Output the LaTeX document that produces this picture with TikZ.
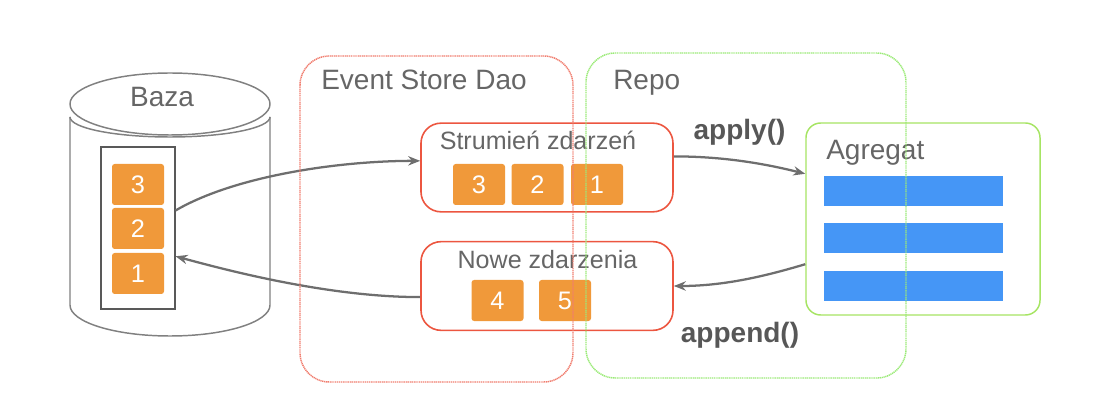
\documentclass[tikz,border=0pt]{standalone}
\usepackage{fontspec}
\setmainfont{Liberation Sans}
\usetikzlibrary{arrows.meta}

\definecolor{evorange}{HTML}{F0993A}
\definecolor{boxred}{HTML}{EC5640}
\definecolor{dotred}{HTML}{F07D6E}
\definecolor{aggreen}{HTML}{A6E463}
\definecolor{dotgreen}{HTML}{9BEA78}
\definecolor{barblue}{HTML}{4596F6}
\definecolor{txtgray}{HTML}{666666}
\definecolor{arrgray}{HTML}{6E6E6E}

\begin{document}
\begin{tikzpicture}[x=0.75pt,y=0.75pt,yscale=-1,xscale=1,
  title/.style={anchor=base,inner sep=0pt,text=txtgray,font=\fontsize{21}{24}\selectfont},
  subtitle/.style={anchor=base,inner sep=0pt,text=txtgray,font=\fontsize{18.8}{22}\selectfont},
  method/.style={anchor=base,inner sep=0pt,text=txtgray!85!black,font=\fontsize{21}{24}\selectfont\bfseries},
  ev/.style={fill=evorange,rounded corners=2pt,minimum width=39pt,minimum height=30.75pt,inner sep=0pt,text=white,font=\fontsize{19}{19}\selectfont},
  evgroup/.style={draw=boxred,line width=1.2pt,rounded corners=15pt,minimum width=189pt,minimum height=66.5pt,inner sep=0pt},
  bar/.style={fill=barblue,minimum width=134.25pt,minimum height=22.5pt,inner sep=0pt},
  dbline/.style={draw=black!50,line width=1.1pt},
  frame/.style={line width=1.1pt,dash pattern=on 0.9pt off 0.5pt,rounded corners=22pt},
  flow/.style={draw=arrgray,line width=1.7pt,-{Stealth[length=9pt,width=7pt]}}]
\useasboundingbox (0,0) rectangle (1098,416);

%Shape: Can [id:baza]
\draw [dbline] (170,104) ellipse [x radius=100,y radius=31];
\draw [dbline] (70,117) -- (70,305) arc [start angle=180,end angle=0,x radius=100,y radius=31] -- (270,117);
\draw [dbline] (70,117) arc [start angle=180,end angle=0,x radius=100,y radius=20];
% Text Node
\node [title] (bazalabel) at (162,107) {Baza};

%Shape: Rectangle [id:dbin]
\node [draw=black!65,line width=0.8pt,minimum width=55.5pt,minimum height=121.5pt,inner sep=0pt] (dbin) at (138,228) {};
\node [ev] (d3) at (138,184.5) {3};
\node [ev] (d2) at (138,228.5) {2};
\node [ev] (d1) at (138,273.5) {1};

%Shape: Rectangle [id:stream]
\node [evgroup] (stream) at (547,167.5) {};
\node [subtitle] (streamlabel) at (538,150) {Strumień zdarzeń};
\node [ev] (s3) at (479,184.5) {3};
\node [ev] (s2) at (537.5,184.5) {2};
\node [ev] (s1) at (597,184.5) {1};

%Shape: Rectangle [id:newev]
\node [evgroup] (newev) at (547,286) {};
\node [subtitle] (newevlabel) at (547.5,269) {Nowe zdarzenia};
\node [ev] (n4) at (497.5,300.5) {4};
\node [ev] (n5) at (565,300.5) {5};

%Shape: Rectangle [id:agg]
\node [draw=aggreen,line width=1.1pt,rounded corners=11pt,minimum width=175.5pt,minimum height=144pt,inner sep=0pt] (agg) at (923,219) {};
\node [title,anchor=base west] (agglabel) at (826,160) {Agregat};
\node [bar] (bar1) at (913.5,191) {};
\node [bar] (bar2) at (913.5,238) {};
\node [bar] (bar3) at (913.5,286) {};

%Curve Lines
\draw [flow] (dbin.25) .. controls +(60,-35) and +(-80,0) .. (stream.177.5);
\draw [flow] (newev.185) .. controls +(-90,0) and +(55,15) .. (dbin.-37);
\draw [flow] (stream.5) .. controls +(50,0) and +(-40,-10) .. (agg.159);
\draw [flow] (agg.201) .. controls +(-40,12) and +(50,0) .. (newev.east);

% Text Node
\node [method] (apply) at (739.5,140) {apply()};
% Text Node
\node [method] (append) at (740,342) {append()};

%Shape: Rectangle [id:eventstore]
\draw [frame,dotred] (300,56) rectangle (573,382);
\node [title,anchor=base west] (dao) at (321,90) {Event Store Dao};
%Shape: Rectangle [id:repo]
\draw [frame,dotgreen] (586,53) rectangle (906,378);
\node [title,anchor=base west] (repo) at (613,90) {Repo};

\end{tikzpicture}
\end{document}
